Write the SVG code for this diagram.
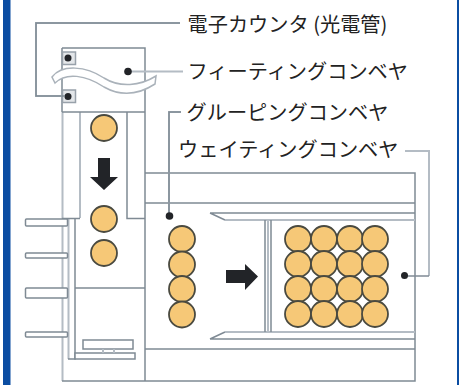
<svg xmlns="http://www.w3.org/2000/svg" width="459" height="385" viewBox="0 0 459 385">
<style>
.l{fill:none;stroke:#7f8a94;stroke-width:1.5}
.g{fill:none;stroke:#b4bcc4;stroke-width:2}
.w{fill:#fff;stroke:#7f8a94;stroke-width:1.5}
.c{fill:#f6c877;stroke:#4a4a40;stroke-width:1.8}
.d{fill:#222428}
.t{font-family:"Noto Sans CJK JP","Noto Sans",sans-serif;font-size:20.2px;fill:#222}
</style>
<rect width="459" height="385" fill="#fff"/>
<rect x="3" y="0" width="7.5" height="385" fill="#0b4da2"/>
<rect x="457" y="0" width="2" height="385" fill="#0b4da2"/>
<g id="machine">
<path class="g" d="M62.500 112V381M80 112V218M68.500 219V359"/>
<path class="l" d="M62 48H145V381H62M62 48V112M62 112H145M127 112V218.500H145M62 218.500H80M145 173H415V381H145M145 203H415M145 349H415"/>
<path class="l" d="M75 219V359H68M75 288H145"/>
<path class="l" d="M210 213H415M210 213L225 220M210 339H415M210 339L225 332"/>
<path class="g" d="M225 220H415M225 332H415"/>
<path class="g" d="M268 220V332"/>
<path class="l" d="M265 220V332M271 220V332" stroke-width="1"/>
<rect class="w" x="25.500" y="219" width="42" height="7" rx="1"/>
<rect class="w" x="25.500" y="253" width="42" height="5" rx="1"/>
<rect class="w" x="25.500" y="288" width="42" height="10" rx="1"/>
<rect class="w" x="25.500" y="332" width="42" height="5" rx="1"/>
<rect class="w" x="83" y="340" width="50" height="9"/>
<rect class="w" x="75" y="353" width="60" height="6"/>
<path class="g" d="M103 349V353M114 349V353"/>
<path d="M52 77C62 64 86 66 104 78C120 88 140 86 156 76L155 84C138 95 120 96 104 87C86 75 66 72 55 83Z" fill="#fff" stroke="#aab2ba" stroke-width="1.500"/>
</g>
<g id="sensor-top"><rect x="62.500" y="52" width="13" height="12.500" fill="#e3e6e9" stroke="#98a1aa" stroke-width="1.500"/><circle class="d" cx="68" cy="58" r="3.500"/></g>
<g id="sensor-bottom"><rect x="62.500" y="90" width="13" height="12.500" fill="#e3e6e9" stroke="#98a1aa" stroke-width="1.500"/><circle class="d" cx="68" cy="96.500" r="3.500"/></g>
<g id="feed-products">
<circle class="c" cx="104" cy="128" r="13"/>
<circle class="c" cx="104" cy="219" r="13"/>
<circle class="c" cx="104" cy="253" r="13"/>
<path class="d" d="M98 158H110V177H118L104 190L90 177H98Z"/>
</g>
<g id="group-products">
<circle class="c" cx="182" cy="239" r="13"/>
<circle class="c" cx="182" cy="264.500" r="13"/>
<circle class="c" cx="182" cy="289" r="13"/>
<circle class="c" cx="182" cy="314.500" r="13"/>
<path class="d" d="M226 270H245V264L258 276.500L245 290V283H226Z"/>
</g>
<g id="weigh-products">
<circle class="c" cx="298" cy="239" r="13"/><circle class="c" cx="324" cy="239" r="13"/><circle class="c" cx="350" cy="239" r="13"/><circle class="c" cx="375" cy="239" r="13"/>
<circle class="c" cx="298" cy="264" r="13"/><circle class="c" cx="324" cy="264" r="13"/><circle class="c" cx="350" cy="264" r="13"/><circle class="c" cx="375" cy="264" r="13"/>
<circle class="c" cx="298" cy="289" r="13"/><circle class="c" cx="324" cy="289" r="13"/><circle class="c" cx="350" cy="289" r="13"/><circle class="c" cx="375" cy="289" r="13"/>
<circle class="c" cx="298" cy="314" r="13"/><circle class="c" cx="324" cy="314" r="13"/><circle class="c" cx="350" cy="314" r="13"/><circle class="c" cx="375" cy="314" r="13"/>
</g>
<g id="connectors">
<path class="g" d="M180 23H36V96H62"/>
<path class="l" d="M180 23H36V96H65" stroke-width="1"/>
<path class="g" d="M128 71.500H183"/>
<path class="g" d="M181 112H169V215"/>
<path class="l" d="M181 112H169V215" stroke-width="1"/>
<path class="g" d="M405 151H429V276"/>
<path class="l" d="M405 276H429"/>
<circle class="d" cx="128" cy="71.500" r="3.800"/>
<circle class="d" cx="169.500" cy="216" r="3.800"/>
<circle class="d" cx="404.500" cy="275.500" r="3.500"/>
</g>
<g id="labels">
<text class="t" x="187.500" y="32">電子カウンタ (光電管)</text>
<text class="t" x="187.500" y="79">フィーティングコンベヤ</text>
<text class="t" x="186.500" y="120">グルーピングコンベヤ</text>
<text class="t" x="178" y="157">ウェイティングコンベヤ</text>
</g>
</svg>
